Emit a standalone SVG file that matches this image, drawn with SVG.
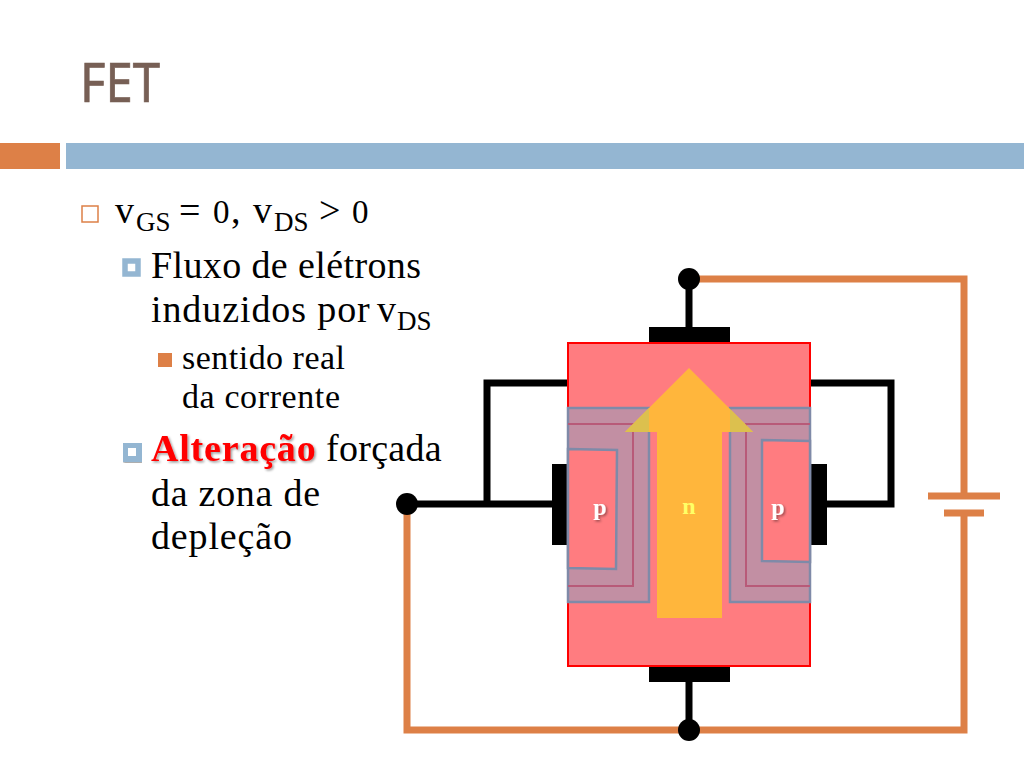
<svg xmlns="http://www.w3.org/2000/svg" width="1024" height="768" viewBox="0 0 1024 768">
<style>
.t{font-family:"Liberation Serif",serif;fill:#000}
.l1{font-size:38px}.l2{font-size:38px}.l3{font-size:34px}
.sub{font-size:27px}
.zero{font-size:33px}
.blk{fill:none;stroke:#000;stroke-width:7}
.org{fill:none;stroke:#dd8047;stroke-width:7}
.lab{font-family:"Liberation Serif",serif;font-weight:bold;font-size:24px;text-anchor:middle;fill:#fff}
.dep{stroke:#7f8aa8;stroke-width:2.5;fill:#c28fa3}
.red{fill:none;stroke:#b85a78;stroke-width:2}
.p{fill:#ff7c80;stroke:#7f8aa8;stroke-width:2.5}
</style>
<defs>
<filter id="sh" x="-10%" y="-10%" width="125%" height="135%"><feDropShadow dx="1.5" dy="1.5" stdDeviation="1" flood-color="#000" flood-opacity="0.4"/></filter>
</defs>
<rect width="1024" height="768" fill="#fff"/>
<g id="header">
<text x="80" y="102" font-family="'Noto Sans',sans-serif" font-size="54" fill="#775f55" stroke="#775f55" stroke-width="0.7" textLength="80" lengthAdjust="spacingAndGlyphs">FET</text>
<rect x="0" y="143" width="60" height="26" fill="#dd8047"/>
<rect x="66" y="143" width="958" height="26" fill="#94b6d2"/>
</g>
<g id="bullets">
<rect x="82" y="206" width="16" height="16" fill="none" stroke="#dd8047" stroke-width="1.5"/>
<rect x="125" y="261" width="13" height="13" fill="#fff" stroke="#94b6d2" stroke-width="5.5"/>
<rect x="158" y="353" width="14" height="14" fill="#dd8047"/>
<rect x="125" y="445" width="14" height="14" fill="#fff" stroke="#94b6d2" stroke-width="6" filter="url(#sh)"/>
</g>
<g id="text">
<text class="t l1" y="223"><tspan x="115">v</tspan><tspan class="sub" x="136" dy="8">GS</tspan><tspan x="179" dy="-8">=</tspan><tspan class="zero" x="213">0</tspan><tspan x="231">,</tspan><tspan x="253">v</tspan><tspan class="sub" x="274" dy="8">DS</tspan><tspan x="319" dy="-8">&gt;</tspan><tspan class="zero" x="352">0</tspan></text>
<text class="t l2" x="151" y="278" textLength="270" lengthAdjust="spacing">Fluxo de elétrons</text>
<text class="t l2" y="322"><tspan x="151" letter-spacing="0.9">induzidos por</tspan><tspan x="377">v</tspan><tspan class="sub" x="397" dy="8">DS</tspan></text>
<text class="t l3" x="182" y="369" textLength="163" lengthAdjust="spacing">sentido real</text>
<text class="t l3" x="182" y="408" textLength="158" lengthAdjust="spacing">da corrente</text>
<text class="t l2" x="151" y="461" font-weight="bold" style="fill:#f00" filter="url(#sh)" letter-spacing="0.8">Alteração</text>
<text class="t l2" x="326" y="461" letter-spacing="0.3">forçada</text>
<text class="t l2" x="151" y="506" textLength="169" lengthAdjust="spacing">da zona de</text>
<text class="t l2" x="151" y="549" textLength="141" lengthAdjust="spacing">depleção</text>
</g>
<g id="connectors">
<path class="org" d="M689 279H964V496M964 513V730H407V504"/>
<path class="blk" d="M689 279V327M689 682V730M407 504H552M487 504V383H568M810 383H891V504H827"/>
<path class="org" d="M928 496H1000M944 513H984"/>
</g>
<g id="terminals">
<circle cx="689" cy="279" r="11"/>
<circle cx="689" cy="730" r="11"/>
<circle cx="407" cy="504" r="11"/>
</g>
<g id="fet">
<rect x="649" y="327" width="81" height="16"/>
<rect x="649" y="666" width="81" height="16"/>
<rect x="552" y="464" width="16" height="81"/>
<rect x="810" y="464" width="17" height="81"/>
<rect x="568" y="343" width="242" height="323" fill="#ff7c80" stroke="#f00" stroke-width="2"/>
<path class="dep" d="M568 408H649V602H568Z"/>
<path class="dep" d="M810 408H730V602H810Z"/>
<path class="red" d="M568 424H633V586H568M810 424H746V586H810"/>
<path class="p" d="M568 449L617 450L616 569L568 568Z"/>
<path class="p" d="M810 441L762 440V561L810 562Z"/>
<path d="M689 368L753 432H722V618H657V432H625Z" fill="#ffb63c"/>
<path d="M649 408L625 432H649ZM730 409L753 432H730Z" fill="#dcc04e"/>
<text class="lab" x="600" y="515" filter="url(#sh)">p</text>
<text class="lab" x="689" y="514" style="fill:#ffff66">n</text>
<text class="lab" x="778" y="515" filter="url(#sh)">p</text>
</g>
</svg>
